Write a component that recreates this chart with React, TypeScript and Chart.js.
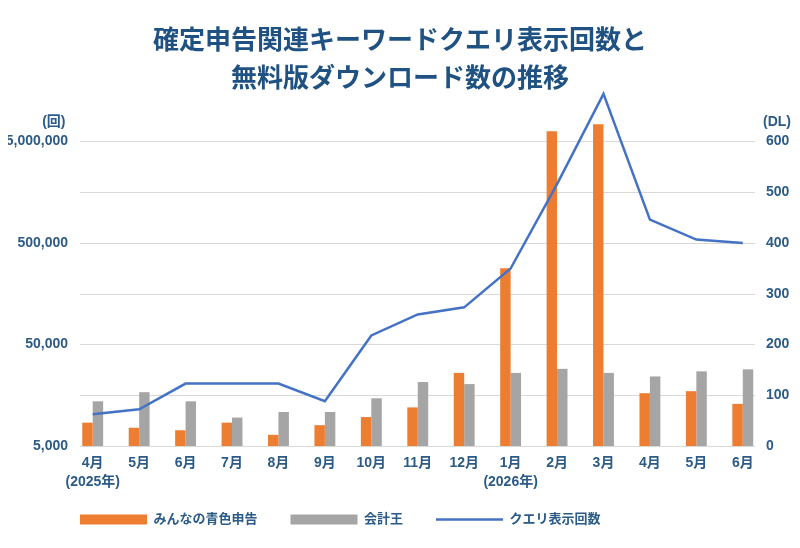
import { useEffect, useRef } from 'react';
import { Chart, registerables } from 'chart.js';

Chart.register(...registerables);

const FONT = '"Liberation Sans", "Noto Sans CJK JP", sans-serif';
const TITLE_COLOR = '#1f5282';
const TEXT_COLOR = '#2b5b86';
const GRID_COLOR = '#d9d9d9';

const titleLines = ['確定申告関連キーワードクエリ表示回数と', '無料版ダウンロード数の推移'];
const months = [
    ['4月', '(2025年)'], '5月', '6月', '7月', '8月', '9月', '10月', '11月', '12月',
    ['1月', '(2026年)'], '2月', '3月', '4月', '5月', '6月'
];
const aoiroDownloads = [46, 36, 31, 46, 22, 41, 57, 76, 144, 350, 620, 634, 104, 108, 83];
const kaikeiouDownloads = [88, 106, 88, 56, 67, 67, 94, 126, 122, 144, 152, 144, 137, 147, 151];
const queryImpressions = [10300, 11500, 20600, 20600, 20600, 13800, 61400, 98700, 116000, 280000, 1900000, 14700000, 849000, 540000, 500000];
const queryTicks = [5000, 50000, 500000, 5000000];

// "(回)" / "(DL)" above the two value axes
const unitLabels = {
    id: 'unitLabels',
    afterDraw(chart: any) {
        const { ctx, chartArea } = chart;
        ctx.save();
        ctx.font = `bold 14px ${FONT}`;
        ctx.fillStyle = TEXT_COLOR;
        ctx.textBaseline = 'middle';
        ctx.textAlign = 'right';
        ctx.fillText('(回)', chartArea.left - 4, chartArea.top - 19);
        ctx.textAlign = 'left';
        ctx.fillText('(DL)', chartArea.right - 3, chartArea.top - 19);
        ctx.restore();
    }
};

// the horizontal grid stops short of the outer bars, as in the original
const insetGrid = {
    id: 'insetGrid',
    beforeDatasetsDraw(chart: any) {
        const { ctx, chartArea, scales } = chart;
        const scale = scales.y1;
        ctx.save();
        ctx.strokeStyle = GRID_COLOR;
        ctx.lineWidth = 1;
        scale.ticks.forEach((tick: any) => {
            const y = Math.round(scale.getPixelForValue(tick.value)) + 0.5;
            ctx.beginPath();
            ctx.moveTo(chartArea.left + 10.5, y);
            ctx.lineTo(chartArea.right - 11, y);
            ctx.stroke();
        });
        ctx.restore();
    }
};

// legend sits left of centre and a little higher in the original
const legendShift = {
    id: 'legendShift',
    afterLayout(chart: any) {
        const legend = chart.legend;
        if (!legend) return;
        legend.left += 57;
        legend.right += 57;
        legend.top -= 12;
        legend.bottom -= 12;
    }
};

function App() {
    const canvasRef = useRef<HTMLCanvasElement>(null);
    const chartInstanceRef = useRef<Chart | null>(null);

    useEffect(() => {
        if (!canvasRef.current) return;
        const ctx = canvasRef.current.getContext('2d');
        if (!ctx) return;

        if (chartInstanceRef.current) {
            chartInstanceRef.current.destroy();
        }

        chartInstanceRef.current = new Chart(ctx, {
            type: 'bar',
            data: {
                labels: months,
                datasets: [
                    {
                        type: 'bar',
                        label: 'みんなの青色申告',
                        data: aoiroDownloads,
                        backgroundColor: '#ed7d31',
                        yAxisID: 'y1',
                        order: 1,
                        clip: false as any
                    },
                    {
                        type: 'bar',
                        label: '会計王',
                        data: kaikeiouDownloads,
                        backgroundColor: '#a5a5a5',
                        yAxisID: 'y1',
                        order: 1,
                        clip: false as any
                    },
                    {
                        type: 'line',
                        label: 'クエリ表示回数',
                        data: queryImpressions,
                        borderColor: '#4472c4',
                        backgroundColor: '#4472c4',
                        borderWidth: 2.5,
                        pointRadius: 0,
                        tension: 0,
                        yAxisID: 'y',
                        order: 0,
                        clip: false as any
                    }
                ]
            } as any,
            options: {
                animation: false,
                responsive: false,
                categoryPercentage: 0.45,
                barPercentage: 1,
                layout: { padding: { left: -10, right: -10, top: 0, bottom: 0 } },
                scales: {
                    x: {
                        grid: { display: false, drawTicks: false },
                        border: { display: false },
                        ticks: {
                            color: TEXT_COLOR,
                            padding: 8,
                            maxRotation: 0,
                            autoSkip: false,
                            font: { family: FONT, size: 14, weight: 'bold', lineHeight: 1.32 }
                        },
                        afterFit: (scale: any) => { scale.height = 46; }
                    },
                    y: {
                        type: 'logarithmic',
                        position: 'left',
                        min: 5000,
                        max: 5000000,
                        grid: { display: false, drawTicks: false },
                        border: { display: false },
                        afterBuildTicks: (scale: any) => {
                            scale.ticks = queryTicks.map(value => ({ value }));
                        },
                        ticks: {
                            color: TEXT_COLOR,
                            padding: 1.5,
                            font: { family: FONT, size: 14, weight: 'bold' },
                            callback: (value: any) => Number(value).toLocaleString('en-US')
                        },
                        afterFit: (scale: any) => { scale.width = 79.5; }
                    },
                    y1: {
                        type: 'linear',
                        position: 'right',
                        min: 0,
                        max: 600,
                        grid: { display: false, drawTicks: false },
                        border: { display: false },
                        ticks: {
                            stepSize: 100,
                            color: TEXT_COLOR,
                            padding: 0,
                            font: { family: FONT, size: 14, weight: 'bold' }
                        },
                        afterFit: (scale: any) => { scale.width = 44; }
                    }
                },
                plugins: {
                    title: {
                        display: true,
                        text: titleLines,
                        color: TITLE_COLOR,
                        font: { family: FONT, size: 26, weight: 'bold', lineHeight: 1.45 },
                        padding: { top: 23, bottom: 43 }
                    },
                    legend: {
                        position: 'bottom',
                        align: 'start',
                        labels: {
                            usePointStyle: true,
                            pointStyleWidth: 67,
                            boxHeight: 10,
                            padding: 33,
                            color: TEXT_COLOR,
                            font: { family: FONT, size: 13, weight: 'bold' },
                            generateLabels: (chart: any) =>
                                Chart.defaults.plugins.legend.labels.generateLabels(chart).map((item: any) => ({
                                    ...item,
                                    pointStyle: item.datasetIndex === 2 ? 'line' : 'rect'
                                })),
                            sort: (a: any, b: any) => a.datasetIndex - b.datasetIndex
                        }
                    },
                    tooltip: { enabled: false }
                }
            },
            plugins: [insetGrid, unitLabels, legendShift]
        });

        return () => {
            if (chartInstanceRef.current) {
                chartInstanceRef.current.destroy();
                chartInstanceRef.current = null;
            }
        };
    }, []);

    return (
        <div style={{ width: 800, height: 548, margin: -8, background: '#fff' }}>
            <canvas ref={canvasRef} width={800} height={548} />
        </div>
    );
}

export default App;
